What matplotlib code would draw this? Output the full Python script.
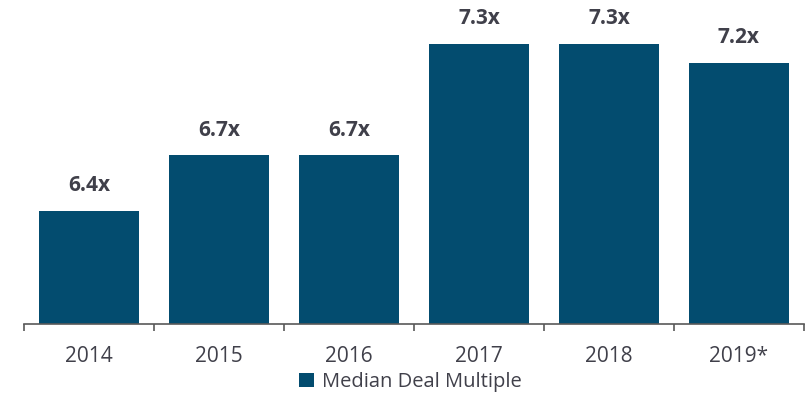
import matplotlib.pyplot as plt
import numpy as np

years = ["2014", "2015", "2016", "2017", "2018", "2019*"]
multiples = [6.4, 6.7, 6.7, 7.3, 7.3, 7.2]
labels = ["6.4x", "6.7x", "6.7x", "7.3x", "7.3x", "7.2x"]

bar_color = "#034C6F"
text_color = "#40404A"

plt.rcParams['font.family'] = ['Open Sans', 'DejaVu Sans']

fig = plt.figure(figsize=(8.08, 4.05), dpi=100)
ax = fig.add_axes([24 / 808, 81 / 405, 780 / 808, 324 / 405])

x = np.arange(len(years))
bars = ax.bar(x, multiples, width=0.77, color=bar_color, label="Median Deal Multiple", zorder=2)

for xi, v, lab in zip(x, multiples, labels):
    ax.annotate(lab, (xi, v), xytext=(0, 18), textcoords="offset points",
                ha="center", va="center", fontsize=15, fontweight="bold", color=text_color)

ax.set_xlim(-0.5, 5.5)
ax.set_ylim(5.79, 7.537)
ax.set_xticks(x)
ax.set_xticklabels(years, fontsize=15, color=text_color)
ax.set_xticks(np.arange(-0.5, 6, 1), minor=True)
ax.tick_params(axis="x", which="major", length=0, pad=16)
ax.tick_params(axis="x", which="minor", length=5, width=1.2, color="#595959", direction="out")
ax.set_yticks([])

for s in ["top", "right", "left"]:
    ax.spines[s].set_visible(False)
ax.spines["bottom"].set_color("#595959")
ax.spines["bottom"].set_linewidth(1.2)

fig.legend(handles=[bars], labels=["Median Deal Multiple"], loc="center",
           bbox_to_anchor=(410 / 808, 1 - 382 / 405), frameon=False, fontsize=14.5,
           labelcolor=text_color, handlelength=0.75, handleheight=0.75, handletextpad=0.4)

fig.savefig("out.png", dpi=100)
